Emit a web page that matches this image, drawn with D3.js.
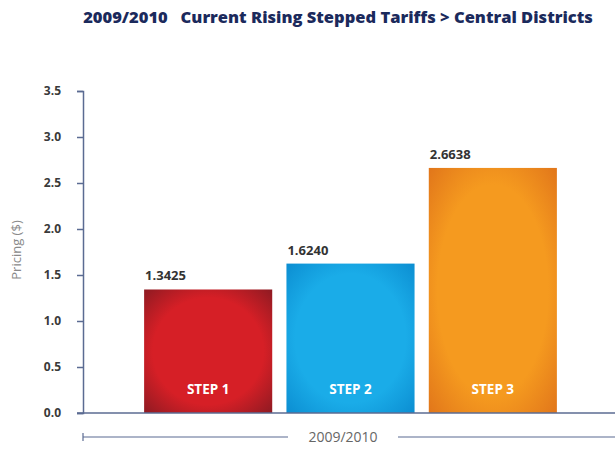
<!DOCTYPE html>
<html>
<head>
<meta charset="utf-8">
<script src="https://cdn.jsdelivr.net/npm/d3@7"></script>
<style>
  body { margin: 0; background: #fff; }
  svg { display: block; font-family: "Open Sans", "Noto Sans", sans-serif; }
  .tick text { font-family: "Open Sans", sans-serif; font-weight: 700; font-size: 12px; fill: #3a3a3a; }
</style>
</head>
<body>
<div id="chart"></div>
<script>
// chart data
const steps = ["STEP 1", "STEP 2", "STEP 3"];
const prices = [1.3425, 1.6240, 2.6638];
const priceLabels = ["1.3425", "1.6240", "2.6638"];
const yTicks = [0, 0.5, 1.0, 1.5, 2.0, 2.5, 3.0, 3.5];
const periodLabel = "2009/2010";

const svgWidth = 615;
const svgHeight = 450;

const svg = d3.select("#chart")
  .append("svg")
  .attr("width", svgWidth)
  .attr("height", svgHeight);

// gradients for the bars (darker edges)
const colors = [
  { mid: "#d61f26", edge: "#8a1a22" },
  { mid: "#1aace8", edge: "#0b8cd0" },
  { mid: "#f59a1f", edge: "#e0741a" }
];
const defs = svg.append("defs");
colors.forEach((c, i) => {
  const g = defs.append("radialGradient")
    .attr("id", "grad" + i)
    .attr("cx", "50%").attr("cy", "50%").attr("r", "72%");
  g.append("stop").attr("offset", "0%").attr("stop-color", c.mid);
  g.append("stop").attr("offset", "60%").attr("stop-color", c.mid);
  g.append("stop").attr("offset", "100%").attr("stop-color", c.edge);
});

// scales
const y = d3.scaleLinear().domain([0, 3.5]).range([413, 91]);
const x = d3.scaleBand().domain(steps).range([137, 564])
  .paddingInner(0.1).paddingOuter(0.05);

// title
svg.append("text")
  .attr("x", 338)
  .attr("y", 23)
  .attr("text-anchor", "middle")
  .attr("xml:space", "preserve")
  .style("font-family", "'Open Sans', sans-serif")
  .style("font-weight", 800)
  .style("font-size", "16.5px")
  .style("fill", "#1b2a5c")
  .text("2009/2010   Current Rising Stepped Tariffs > Central Districts");

// bars
svg.selectAll("rect.bar")
  .data(prices)
  .enter()
  .append("rect")
  .attr("class", "bar")
  .attr("x", (d, i) => x(steps[i]))
  .attr("y", d => y(d))
  .attr("width", x.bandwidth())
  .attr("height", d => y(0) - y(d))
  .attr("fill", (d, i) => `url(#grad${i})`);

// value labels
svg.selectAll("text.val")
  .data(prices)
  .enter()
  .append("text")
  .attr("class", "val")
  .attr("x", (d, i) => x(steps[i]) + 1)
  .attr("y", d => y(d) - 9)
  .style("font-weight", 700)
  .style("font-size", "13px")
  .style("fill", "#333")
  .text((d, i) => priceLabels[i]);

// step labels inside bars
svg.selectAll("text.step")
  .data(steps)
  .enter()
  .append("text")
  .attr("class", "step")
  .attr("x", d => x(d) + x.bandwidth() / 2)
  .attr("y", 394)
  .attr("text-anchor", "middle")
  .style("font-weight", 700)
  .style("font-size", "13.5px")
  .style("fill", "#fff")
  .text(d => d);

// y axis
const yAxis = d3.axisLeft(y)
  .tickValues(yTicks)
  .tickFormat(d3.format(".1f"))
  .tickSize(6)
  .tickPadding(16);
const axisG = svg.append("g")
  .attr("transform", "translate(83,0)")
  .call(yAxis);
axisG.select(".domain").attr("stroke", "#5b6b92").attr("stroke-width", 1.5);
axisG.selectAll(".tick line").attr("stroke", "#5b6b92").attr("stroke-width", 1.5);

// baseline
svg.append("line")
  .attr("x1", 77).attr("x2", 615)
  .attr("y1", y(0)).attr("y2", y(0))
  .attr("stroke", "#5b6b92")
  .attr("stroke-width", 1.5);

// y axis title
svg.append("text")
  .attr("transform", "translate(21,250) rotate(-90)")
  .attr("text-anchor", "middle")
  .style("font-size", "13px")
  .style("fill", "#8a8a8a")
  .text("Pricing ($)");

// period bracket below
const bracketY = 437;
svg.append("line")
  .attr("x1", 83).attr("x2", 83)
  .attr("y1", bracketY - 4).attr("y2", bracketY + 4)
  .attr("stroke", "#5b6b92").attr("stroke-width", 1.2);
svg.append("line")
  .attr("x1", 83).attr("x2", 288)
  .attr("y1", bracketY).attr("y2", bracketY)
  .attr("stroke", "#5b6b92").attr("stroke-width", 1.2);
svg.append("line")
  .attr("x1", 398).attr("x2", 615)
  .attr("y1", bracketY).attr("y2", bracketY)
  .attr("stroke", "#5b6b92").attr("stroke-width", 1.2);
svg.append("text")
  .attr("x", 343)
  .attr("y", bracketY + 5)
  .attr("text-anchor", "middle")
  .style("font-size", "14px")
  .style("fill", "#666")
  .text(periodLabel);
</script>
</body>
</html>
